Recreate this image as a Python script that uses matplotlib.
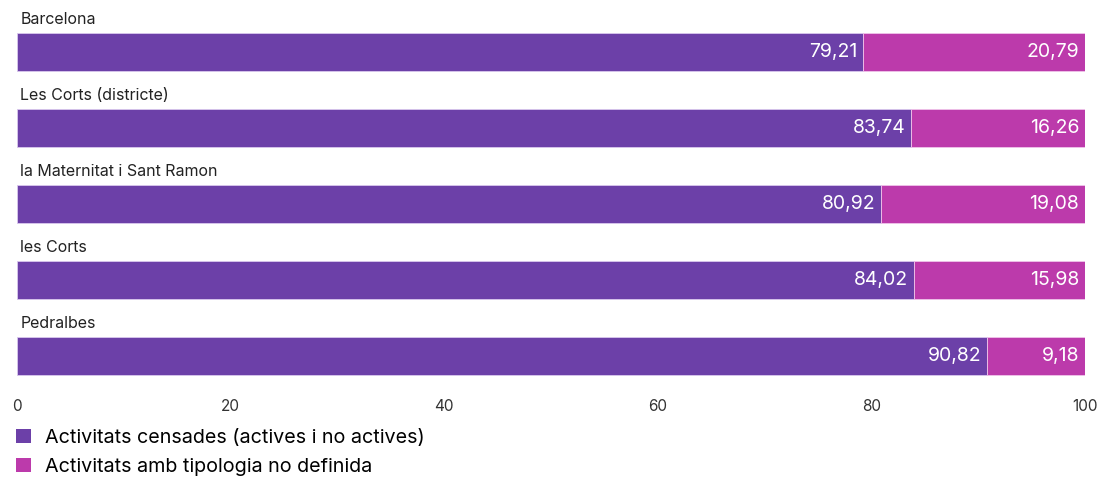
import matplotlib.pyplot as plt
from matplotlib.patches import Patch

plt.rcParams['font.family'] = ['Inter', 'DejaVu Sans']

# data
areas = ["Barcelona", "Les Corts (districte)", "la Maternitat i Sant Ramon",
         "les Corts", "Pedralbes"]
censades = [79.21, 83.74, 80.92, 84.02, 90.82]
no_definida = [20.79, 16.26, 19.08, 15.98, 9.18]
series_names = ["Activitats censades (actives i no actives)",
                "Activitats amb tipologia no definida"]
ticks = [0, 20, 40, 60, 80, 100]

c_purple = "#6c40a8"
c_magenta = "#bc3aab"

fig = plt.figure(figsize=(11, 4.79), dpi=100)
ax = fig.add_axes([17 / 1100, 1 - 385 / 479, 1068 / 1100, 375 / 479])

pos = list(range(len(areas)))
ax.barh(pos, censades, height=0.5, color=c_purple,
        edgecolor="#d9c8ee", linewidth=0.6)
ax.barh(pos, no_definida, left=censades, height=0.5, color=c_magenta,
        edgecolor="#f0c4ea", linewidth=0.6)

for i, name in enumerate(areas):
    ax.text(0.3, i - 0.43, name, ha="left", va="center", fontsize=11.5,
            color="#222222")
    ax.text(censades[i] - 0.55, i, f"{censades[i]:.2f}".replace(".", ","),
            ha="right", va="center", fontsize=14, color="white")
    ax.text(100 - 0.55, i, f"{no_definida[i]:.2f}".replace(".", ","),
            ha="right", va="center", fontsize=14, color="white")

ax.set_xlim(0, 100)
ax.set_ylim(len(areas) - 1 + 0.38, -0.553)
ax.set_xticks(ticks)
ax.set_xticklabels([str(t) for t in ticks], fontsize=11, color="#333333")
ax.tick_params(axis="x", length=0, pad=10)
ax.set_yticks([])
for s in ax.spines.values():
    s.set_visible(False)

handles = [Patch(facecolor=c_purple), Patch(facecolor=c_magenta)]
fig.legend(handles, series_names, loc="upper left",
           bbox_to_anchor=(8 / 1100, 1 - 421 / 479), frameon=False,
           fontsize=14.2, handlelength=0.75, handleheight=0.75,
           handletextpad=0.75, labelspacing=0.55, borderaxespad=0)

fig.savefig("out.png", dpi=100)
